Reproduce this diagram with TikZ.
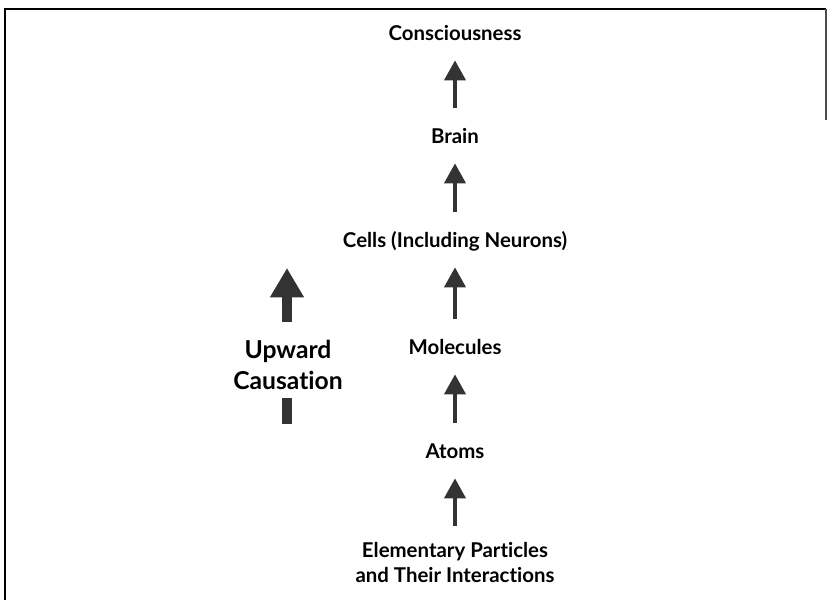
\documentclass[tikz,border=0pt]{standalone}
\usepackage{fontspec}
\setmainfont{Lato}[Ligatures={NoCommon,NoRare}]
\usetikzlibrary{arrows.meta}
\begin{document}
\begin{tikzpicture}[x=0.75pt,y=-0.75pt,
  lbl/.style={font=\bfseries\fontsize{15.3}{18}\selectfont, inner sep=0pt, align=center, text height=11pt, text depth=3pt, anchor=base},
  big/.style={font=\bfseries\fontsize{18.5}{23}\selectfont, inner sep=0pt, align=center},
  arr/.style={draw=black!80, line width=3.4pt, -{Triangle[width=15.5pt,length=15pt]}, shorten <=15pt, shorten >=12pt},
  frame/.style={draw=black, line width=1.3pt}]
\useasboundingbox (0,0) rectangle (828,600);
\draw[frame] (5,600) -- (5,9) -- (826,9);
\draw[draw=black!70, line width=1pt] (826,9) -- (826,120);
\node[lbl] (cons) at (455,40) {Consciousness};
\node[lbl] (brain) at (455,143) {Brain};
\node[lbl] (cells) at (455,247) {Cells (Including Neurons)};
\node[lbl] (mol) at (455,354) {Molecules};
\node[lbl] (atoms) at (455,458) {Atoms};
\node[lbl, text height=, text depth=, anchor=north] (elem) at (455,542) {Elementary Particles\\[1pt]and Their Interactions};
\draw[arr] (brain.north) -- (cons.south);
\draw[arr] (cells.north) -- (brain.south);
\draw[arr] (mol.north) -- (cells.south);
\draw[arr] (atoms.north) -- (mol.south);
\draw[arr, shorten <=12pt] (elem.north) -- (atoms.south);
\node[big] (uc) at (288,365) {Upward\\Causation};
\draw[draw=black!80, line width=8pt, -{Triangle[width=24pt,length=22pt]}] (287,322) -- (287,268);
\fill[black!80] (282,398) rectangle (292,424);
\end{tikzpicture}
\end{document}
